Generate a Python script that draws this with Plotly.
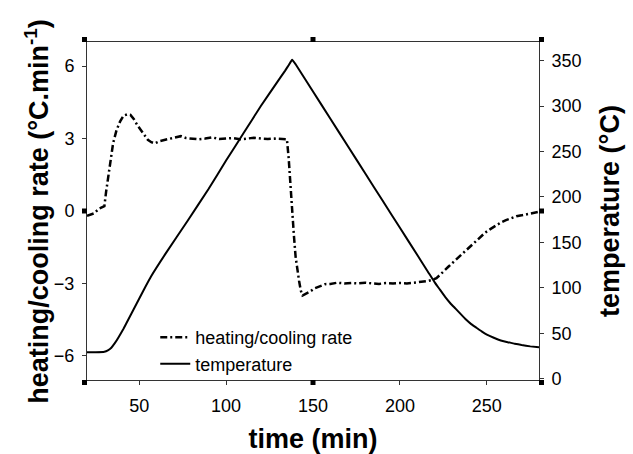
import plotly.graph_objects as go

# ---- data ----
rate_time = [20, 24, 27, 30, 31, 32, 33, 35, 37, 39, 41, 43, 45, 47, 49, 51, 53, 55, 57, 59,
             62, 65, 68, 71, 74, 77, 80, 84, 88, 92, 96, 100, 104, 108, 112, 116, 120, 124, 128,
             132, 135, 136, 137, 138, 139, 140, 141, 142, 143, 144, 146, 148, 151, 154, 157, 160,
             164, 168, 172, 176, 180, 184, 188, 192, 196, 200, 204, 208, 212, 216, 219, 221, 223,
             225, 228, 231, 234, 237, 240, 243, 246, 249, 252, 255, 258, 261, 264, 267, 270, 273,
             276, 280]
rate_values = [-0.2, -0.1, 0.1, 0.2, 0.8, 1.3, 1.8, 2.8, 3.35, 3.7, 3.95, 4.0, 3.98, 3.8, 3.55,
               3.35, 3.15, 2.95, 2.85, 2.8, 2.9, 2.95, 2.98, 3.05, 3.1, 3.02, 3.0, 2.97, 3.0, 3.05,
               2.98, 3.0, 3.02, 2.97, 3.0, 3.03, 3.0, 2.98, 3.0, 2.98, 2.97, 2.2, 1.0, -0.1, -1.0,
               -1.9, -2.5, -2.9, -3.3, -3.5, -3.42, -3.35, -3.2, -3.1, -3.03, -3.02, -2.97, -3.0,
               -2.98, -3.0, -2.97, -3.0, -3.02, -2.98, -3.0, -2.98, -3.0, -2.97, -2.95, -2.9, -2.85,
               -2.78, -2.65, -2.5, -2.3, -2.1, -1.9, -1.7, -1.5, -1.3, -1.1, -0.9, -0.75, -0.6,
               -0.48, -0.38, -0.3, -0.22, -0.18, -0.14, -0.1, -0.03]

temp_time = [20, 25, 30, 32, 34, 36, 38, 41, 44, 47, 50, 53, 57, 65, 78, 90, 100, 110, 120, 130,
             134, 136, 138, 140, 150, 160, 170, 180, 190, 200, 210, 216, 220, 223, 226, 229, 232,
             235, 238, 241, 244, 247, 250, 254, 258, 262, 266, 270, 275, 280]
temp_values = [29, 29, 29.5, 31, 34, 39, 45, 55, 66, 77, 88, 99, 113, 137, 174, 209, 240, 270,
               300, 328, 339, 345, 351, 346, 316, 286, 256, 226, 196, 166, 136, 118, 106, 98, 90,
               83, 77, 71, 65, 60, 56, 52, 48.5, 45, 42, 40, 38.5, 37, 35.5, 34.5]

x_ticks = [50, 100, 150, 200, 250]
rate_ticks = [-6, -3, 0, 3, 6]
temp_ticks = [0, 50, 100, 150, 200, 250, 300, 350]

FONT = "Liberation Sans, Arial, sans-serif"
AXC = "#333333"

fig = go.Figure()
fig.add_trace(go.Scatter(x=rate_time, y=rate_values, mode="lines", name="heating/cooling rate",
                         line=dict(color="black", width=2.5, dash="7px,3px,2px,3px"), yaxis="y"))
fig.add_trace(go.Scatter(x=temp_time, y=temp_values, mode="lines", name="temperature",
                         line=dict(color="black", width=2, shape="spline", smoothing=0.3), yaxis="y2"))

fig.update_layout(
    width=633, height=454,
    margin=dict(l=87, r=94, t=42, b=74, pad=0),
    paper_bgcolor="white", plot_bgcolor="white",
    font=dict(family=FONT, size=18, color="black"),
    showlegend=True,
    legend=dict(x=0.151, y=0.18, xanchor="left", yanchor="top", bgcolor="rgba(0,0,0,0)",
                font=dict(size=18), tracegroupgap=0),
    xaxis=dict(range=[20, 280], tickvals=x_ticks, ticks="outside", ticklen=4, tickcolor=AXC,
               showline=True, linecolor=AXC, linewidth=1, mirror=True, showgrid=False,
               zeroline=False, automargin=False, ticklabelstandoff=5,
               title=dict(text="<b>time (min)</b>", font=dict(size=27), standoff=14)),
    yaxis=dict(range=[-7, 7], tickvals=rate_ticks, ticks="outside", ticklen=4, tickcolor=AXC,
               showline=True, linecolor=AXC, linewidth=1, showgrid=False, zeroline=False,
               automargin=False, ticklabelstandoff=4),
    yaxis2=dict(range=[-1.5, 370.5], tickvals=temp_ticks, ticks="outside", ticklen=4,
                tickcolor=AXC, overlaying="y", side="right", showline=True, linecolor=AXC,
                linewidth=1, showgrid=False, zeroline=False, automargin=False,
                ticklabelstandoff=4,
                title=dict(text="<b>temperature (°C)</b>", font=dict(size=27), standoff=19)),
    annotations=[dict(text="<b>heating/cooling rate (°C.min<sup>-1</sup>)</b>",
                      xref="paper", yref="paper", x=-0.111, y=0.5, xanchor="center",
                      yanchor="middle", textangle=-90, showarrow=False,
                      font=dict(size=27, family=FONT, color="black"))],
)

# small square frame markers
S = 5
sq_pos = [(0, 0), (0.5, 0), (1, 0), (0, 0.5), (1, 0.5), (0, 1), (0.5, 1), (1, 1)]
for px, py in sq_pos:
    dx0 = -S if px == 0 else (0 if px == 1 else -S / 2)
    dy0 = -S if py == 0 else (0 if py == 1 else -S / 2)
    fig.add_shape(type="rect", xref="paper", yref="paper", xsizemode="pixel", ysizemode="pixel",
                  xanchor=px, yanchor=py, x0=dx0, x1=dx0 + S, y0=dy0, y1=dy0 + S,
                  fillcolor="black", line=dict(width=0))

fig.write_html("out.html")
